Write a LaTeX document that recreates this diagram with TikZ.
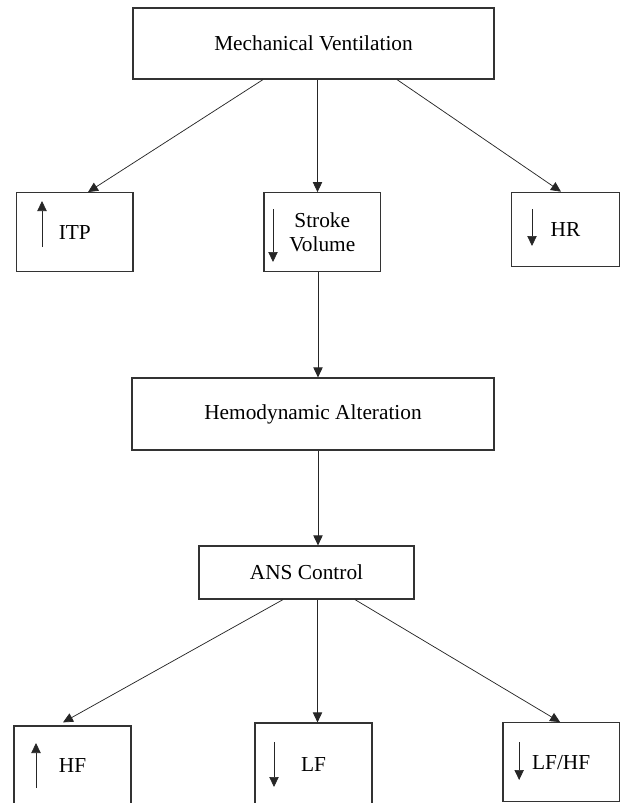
\documentclass[tikz,border=0pt]{standalone}
\usepackage{fontspec}
\setmainfont{Liberation Serif}
\usetikzlibrary{arrows.meta,calc}
\begin{document}
\begin{tikzpicture}[x=0.75pt,y=-0.75pt,
  box/.style={draw=black!80, line width=0.9pt, inner sep=0pt, align=center,
    font=\fontsize{16}{18}\selectfont},
  conn/.style={draw=black!85, line width=0.55pt, -{Triangle[length=7.5pt,width=7pt]}},
  inarr/.style={draw=black!85, line width=0.55pt, -{Triangle[length=7.5pt,width=7pt]}}]
\useasboundingbox (0,0) rectangle (621,803);
\clip (0,0) rectangle (621,803);
\node[box, minimum width=270.75pt, minimum height=53.25pt] (top) at (313.5,43.5) {Mechanical Ventilation};
\node[box, minimum width=87.4pt, minimum height=59.25pt] (itp) at (74.75,232.2) {ITP};
\node[box, minimum width=87.4pt, minimum height=59.25pt] (sv) at (322.25,232.2) {Stroke\\Volume};
\node[box, minimum width=80.7pt, minimum height=55.8pt] (hr) at (565.5,229.5) {HR};
\node[box, minimum width=271.5pt, minimum height=54pt] (hemo) at (313,414) {Hemodynamic Alteration};
\node[box, minimum width=161.25pt, minimum height=39.75pt] (ans) at (306.5,572.5) {ANS Control};
\node[box, minimum width=87.75pt, minimum height=60pt] (hf) at (72.5,766) {HF};
\node[box, minimum width=87.75pt, minimum height=62.25pt] (lf) at (313.5,764.5) {LF};
\node[box, minimum width=87.2pt, minimum height=59.25pt] (lfhf) at (561.15,762.2) {LF/HF};

\draw[conn] ($(top.south)+(-50.5,0)$) -- ($(itp.north)+(13.25,0)$);
\draw[conn] ($(top.south)+(4,0)$) coordinate (a1) -- (a1 |- sv.north);
\draw[conn] ($(top.south)+(83.5,0)$) -- ($(hr.north)+(-4.5,0)$);
\draw[conn] ($(sv.south)+(-4.25,0)$) coordinate (a2) -- (a2 |- hemo.north);
\draw[conn] ($(hemo.south)+(5,0)$) coordinate (a3) -- (a3 |- ans.north);
\draw[conn] ($(ans.south)+(-23.5,0)$) -- ($(hf.north)+(-9.5,-3)$);
\draw[conn] ($(ans.south)+(11,0)$) coordinate (a4) -- (a4 |- lf.north);
\draw[conn] ($(ans.south)+(48.5,0)$) -- ($(lfhf.north)+(-1,0)$);

\draw[inarr] ($(itp.center)+(-32.75,14.8)$) -- ++(0,-46);
\draw[inarr] ($(sv.center)+(-49.25,-23.2)$) -- ++(0,53);
\draw[inarr] ($(hr.center)+(-33.5,-20.5)$) -- ++(0,37);
\draw[inarr] ($(hf.center)+(-36.5,22)$) -- ++(0,-45);
\draw[inarr] ($(lf.center)+(-39.5,-22.5)$) -- ++(0,45);
\draw[inarr] ($(lfhf.center)+(-42,-20.2)$) -- ++(0,38);
\end{tikzpicture}
\end{document}
